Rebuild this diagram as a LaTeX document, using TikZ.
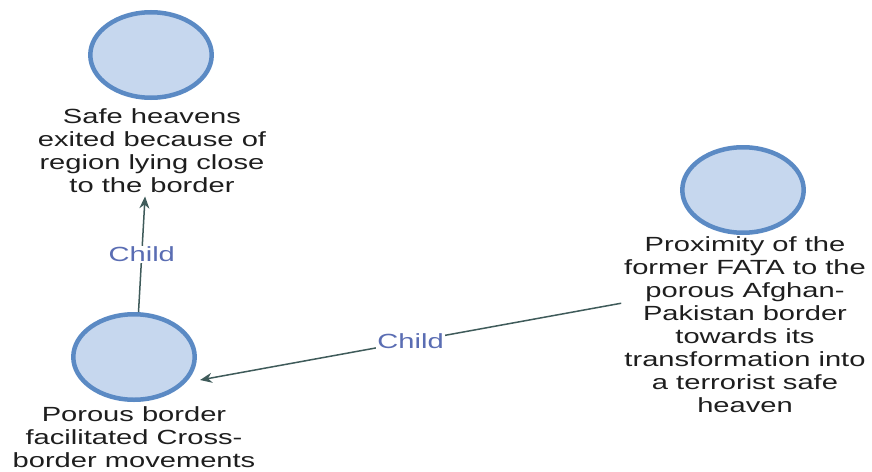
\documentclass[tikz,border=0pt]{standalone}
\usepackage{fontspec}
\setmainfont{Liberation Sans}
\usetikzlibrary{arrows.meta,calc}
\definecolor{ringblue}{HTML}{5B8AC4}
\definecolor{ringfill}{HTML}{C6D7EE}
\definecolor{linkgray}{HTML}{3F5B5A}
\definecolor{labelblue}{HTML}{5A6DB3}
\definecolor{textdark}{HTML}{1E1E1E}
\begin{document}
% The whole drawing is widened by a factor 1.42; x units are chosen so
% that coordinates can be given directly in output pixels.
\begin{tikzpicture}[x=0.704225pt, y=-1pt, xscale=1.42, transform shape,
  concept/.style={circle, draw=ringblue, fill=ringfill, line width=4.5pt,
    minimum size=85.5pt, inner sep=0pt},
  caption/.style={anchor=north, align=center, inner sep=0pt, text=textdark,
    font=\fontsize{20.5}{23}\selectfont},
  link/.style={draw=linkgray, line width=1.5pt,
    -{Stealth[length=12pt,width=10pt]}},
  linklabel/.style={fill=white, inner sep=1pt, text=labelblue,
    font=\fontsize{20.5}{23}\selectfont}]
\useasboundingbox (0,0) rectangle (872,471);

% concepts
\node[concept] (c1) at (151,55) {};
\node[concept] (c2) at (134,357) {};
\node[concept] (c3) at (743,190) {};

\node[caption] (t1) at (152,108)
  {Safe heavens\\exited because of\\region lying close\\to the border};
\node[caption] (t2) at (134,406)
  {Porous border\\facilitated Cross-\\border movements};
\node[caption] (t3) at (745,236)
  {Proximity of the\\former FATA to the\\porous Afghan-\\Pakistan border\\towards its\\transformation into\\a terrorist safe\\heaven};

% connector end points
\coordinate (s1) at (c2.86);
\coordinate (e1) at ($(t1.south)+(-7,4)$);
\coordinate (s2) at ($(t3.west)+(-3,-21)$);
\coordinate (e2) at ($(c2.center)+(66,23)$);

% links
\draw[link] (s1) -- node[linklabel] (l1) {Child} (e1);
\draw[link] (s2) -- node[linklabel] (l2) {Child} (e2);
\end{tikzpicture}
\end{document}
